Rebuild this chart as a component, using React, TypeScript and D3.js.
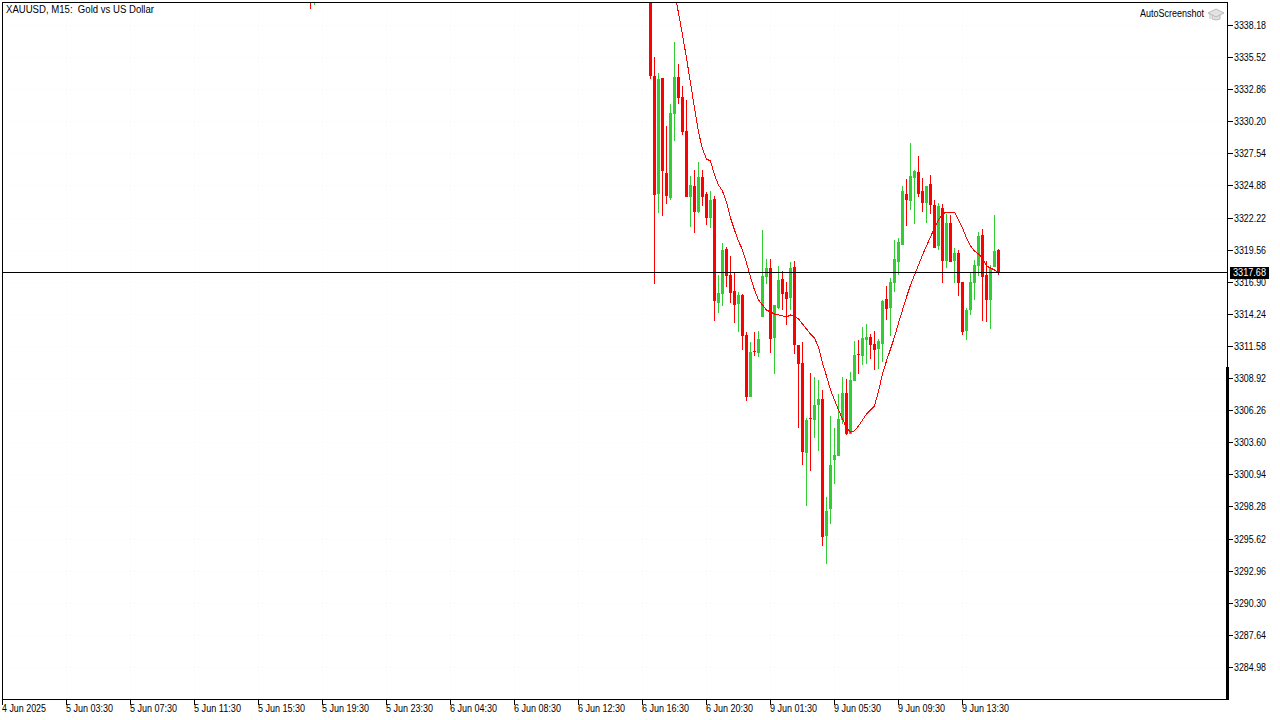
import React, { useRef, useEffect } from 'react';
import * as d3 from 'd3';

// visible run of M15 bars, the first one sits on bar slot 162 of the window
const firstBar = 162;
const opens = [3341.50,3333.95,3324.17,3333.79,3325.92,3323.84,3330.80,3333.87,3332.21,3329.40,3323.93,3324.84,3322.68,3325.58,3324.17,3322.19,3323.76,3315.14,3315.89,3319.62,3317.46,3316.14,3315.06,3315.81,3312.49,3307.35,3311.17,3311.00,3313.98,3317.30,3318.04,3312.24,3314.73,3317.13,3316.05,3315.56,3318.13,3311.66,3310.17,3302.71,3305.61,3305.45,3306.69,3307.19,3295.84,3298.07,3302.13,3302.47,3305.45,3307.69,3304.29,3308.68,3310.92,3310.75,3312.08,3312.33,3311.75,3311.33,3311.75,3315.47,3314.73,3316.80,3318.54,3319.95,3324.17,3323.60,3325.50,3326.00,3324.42,3323.43,3325.00,3323.26,3319.87,3323.02,3318.62,3321.77,3318.62,3319.29,3316.88,3312.82,3314.56,3316.80,3318.21,3320.78,3317.46,3315.39,3318.13,3319.54];
const highs = [3342.00,3335.53,3334.20,3333.79,3329.81,3331.63,3336.77,3334.95,3333.12,3331.96,3325.67,3326.16,3326.83,3326.16,3324.34,3324.42,3324.01,3317.46,3320.12,3319.78,3319.04,3317.71,3316.05,3315.89,3312.74,3311.91,3312.74,3312.82,3321.19,3318.79,3318.79,3314.98,3318.21,3317.79,3316.88,3318.54,3318.62,3311.66,3311.91,3305.61,3309.34,3309.01,3308.76,3307.93,3299.07,3305.78,3304.79,3307.60,3309.01,3308.85,3309.43,3312.00,3312.08,3313.15,3313.40,3312.57,3312.82,3312.16,3315.39,3316.55,3317.21,3320.36,3320.53,3324.84,3325.42,3328.40,3326.16,3327.32,3325.50,3324.84,3325.75,3323.68,3323.43,3323.35,3322.52,3322.43,3319.70,3319.54,3316.88,3314.73,3317.71,3318.71,3321.03,3321.27,3318.62,3318.29,3322.43,3319.62];
const lows = [3333.70,3316.72,3322.60,3322.35,3323.35,3323.68,3328.57,3331.63,3329.06,3323.93,3321.44,3320.94,3322.60,3323.18,3321.61,3321.36,3313.65,3314.32,3314.90,3316.47,3315.14,3313.49,3312.74,3311.25,3307.02,3307.35,3310.75,3310.67,3313.98,3316.72,3311.00,3309.26,3314.65,3314.56,3313.32,3314.56,3310.92,3304.79,3301.72,3298.32,3301.22,3303.96,3302.88,3295.01,3293.52,3296.83,3300.15,3302.47,3305.12,3304.21,3304.29,3308.68,3309.26,3310.01,3310.09,3310.50,3309.59,3309.67,3310.25,3313.73,3312.41,3316.05,3317.46,3319.95,3321.52,3322.85,3321.69,3323.93,3322.68,3321.77,3322.52,3319.70,3319.54,3316.80,3318.04,3318.54,3316.80,3315.72,3312.49,3312.08,3314.15,3315.39,3317.38,3313.65,3313.57,3312.99,3318.13,3317.46];
const closes = [3333.95,3324.09,3333.70,3326.08,3324.01,3330.89,3333.87,3332.13,3329.31,3323.93,3324.92,3322.68,3325.58,3323.93,3322.19,3323.68,3315.31,3315.97,3319.54,3317.38,3315.97,3314.98,3315.81,3312.41,3307.35,3311.08,3311.08,3312.16,3317.38,3318.04,3312.16,3314.98,3317.05,3315.89,3315.47,3318.04,3311.66,3310.09,3302.80,3305.45,3305.53,3306.69,3307.19,3295.75,3297.91,3301.72,3302.55,3305.53,3307.69,3304.29,3308.76,3310.83,3310.83,3312.24,3312.33,3311.66,3311.25,3312.00,3315.31,3314.65,3316.88,3318.79,3320.20,3324.42,3323.68,3325.67,3326.08,3324.17,3323.43,3324.84,3323.26,3319.70,3323.18,3318.62,3321.77,3318.54,3319.29,3316.80,3312.74,3314.56,3316.88,3318.29,3320.70,3317.30,3315.39,3318.04,3319.45,3317.68];

// two older bars whose lows just reach into the window from above
const farSlots = [77, 78];
const farOpens = [3341.20, 3340.10];
const farHighs = [3341.60, 3340.90];
const farLows = [3339.50, 3339.84];
const farCloses = [3340.30, 3340.70];

// moving average, starts on the 7th visible bar
const maStart = 6;
const maValues = [3340.91,3339.17,3337.35,3335.44,3333.37,3331.30,3329.31,3327.90,3327.08,3326.91,3325.75,3324.92,3324.42,3323.51,3322.19,3321.19,3320.28,3319.54,3318.46,3317.30,3316.22,3315.39,3314.98,3314.56,3314.40,3314.23,3314.15,3314.07,3313.98,3314.15,3314.07,3313.82,3313.40,3312.99,3312.57,3312.24,3311.50,3310.17,3309.09,3307.93,3307.11,3306.28,3305.53,3304.79,3304.45,3304.54,3304.95,3305.45,3305.95,3306.28,3306.61,3307.85,3309.26,3310.34,3311.33,3312.33,3313.49,3314.56,3315.64,3316.63,3317.46,3318.29,3319.12,3319.87,3320.61,3321.36,3322.02,3322.52,3322.68,3322.68,3322.68,3322.02,3321.36,3320.53,3319.87,3319.45,3319.20,3318.87,3318.21,3318.04,3317.88,3317.63];

const priceTicks = [3338.18,3335.52,3332.86,3330.20,3327.54,3324.88,3322.22,3319.56,3316.90,3314.24,3311.58,3308.92,3306.26,3303.60,3300.94,3298.28,3295.62,3292.96,3290.30,3287.64,3284.98];
const timeLabels = ['4 Jun 2025','5 Jun 03:30','5 Jun 07:30','5 Jun 11:30','5 Jun 15:30','5 Jun 19:30','5 Jun 23:30','6 Jun 04:30','6 Jun 08:30','6 Jun 12:30','6 Jun 16:30','6 Jun 20:30','9 Jun 01:30','9 Jun 05:30','9 Jun 09:30','9 Jun 13:30'];
const barsPerTimeLabel = 16;
const lastPrice = 3317.68;

const BULL = '#32cd32';
const BEAR = '#ff0000';
const FONT = '"Liberation Sans", sans-serif';

const App: React.FC = () => {
  const svgRef = useRef<SVGSVGElement | null>(null);

  useEffect(() => {
    if (!svgRef.current) return;
    const svg = d3.select(svgRef.current);
    svg.selectAll('*').remove();

    const left = 2, right = 1227, top = 2, bottom = 699;
    const x = d3.scaleLinear().domain([0, 1]).range([2, 6]);
    const y = d3.scaleLinear().domain([3338.18, 3284.98]).range([25, 667]);
    const py = (v: number) => Math.round(y(v));

    svg.append('defs').append('clipPath').attr('id', 'plot')
      .append('rect').attr('x', left).attr('y', top + 1).attr('width', right - left).attr('height', bottom - top - 1);

    // very faint dotted grid
    const grid = svg.append('g').attr('stroke', '#f6f6f6').attr('stroke-dasharray', '1,3').attr('shape-rendering', 'crispEdges');
    grid.selectAll('line.h').data(priceTicks).enter().append('line')
      .attr('x1', left).attr('x2', right).attr('y1', d => py(d) + 0.5).attr('y2', d => py(d) + 0.5);
    grid.selectAll('line.v').data(timeLabels).enter().append('line')
      .attr('y1', top).attr('y2', bottom)
      .attr('x1', (_, i) => x(i * barsPerTimeLabel) + 0.5).attr('x2', (_, i) => x(i * barsPerTimeLabel) + 0.5);

    const bars = [
      ...farSlots.map((slot, i) => ({ slot, o: farOpens[i], h: farHighs[i], l: farLows[i], c: farCloses[i] })),
      ...opens.map((o, i) => ({ slot: firstBar + i, o, h: highs[i], l: lows[i], c: closes[i] })),
    ];

    const plot = svg.append('g').attr('clip-path', 'url(#plot)').attr('shape-rendering', 'crispEdges');
    const candle = plot.selectAll('g.bar').data(bars).enter().append('g').attr('class', 'bar');
    candle.append('rect')
      .attr('x', d => x(d.slot))
      .attr('width', 1)
      .attr('y', d => py(d.h))
      .attr('height', d => Math.max(1, py(d.l) - py(d.h)))
      .attr('fill', d => (d.c >= d.o ? BULL : BEAR));
    candle.append('rect')
      .attr('x', d => x(d.slot) - 1)
      .attr('width', 3)
      .attr('y', d => py(Math.max(d.o, d.c)))
      .attr('height', d => Math.max(1, py(Math.min(d.o, d.c)) - py(Math.max(d.o, d.c))))
      .attr('fill', d => (d.c >= d.o ? BULL : BEAR));

    const maLine = d3.line<number>()
      .x((_, i) => x(firstBar + maStart + i) + 0.5)
      .y(d => y(d));
    plot.append('path').attr('d', maLine(maValues)).attr('fill', 'none').attr('stroke', BEAR).attr('stroke-width', 1);

    // last price line
    svg.append('line').attr('x1', left).attr('x2', right)
      .attr('y1', py(lastPrice) + 0.5).attr('y2', py(lastPrice) + 0.5)
      .attr('stroke', '#000').attr('shape-rendering', 'crispEdges');

    // frame
    const frame = svg.append('g').attr('stroke', '#000').attr('shape-rendering', 'crispEdges');
    frame.append('line').attr('x1', left + 0.5).attr('x2', left + 0.5).attr('y1', top).attr('y2', bottom + 6);
    frame.append('line').attr('x1', left).attr('x2', right + 1).attr('y1', top + 0.5).attr('y2', top + 0.5);
    frame.append('line').attr('x1', left).attr('x2', right + 1).attr('y1', bottom + 0.5).attr('y2', bottom + 0.5);
    frame.append('line').attr('x1', right + 0.5).attr('x2', right + 0.5).attr('y1', top).attr('y2', bottom + 1);
    // the axis line runs heavier below the 3308.92 label
    svg.append('rect').attr('x', right - 1).attr('width', 3)
      .attr('y', py(3308.92) - 11).attr('height', bottom + 1 - (py(3308.92) - 11))
      .attr('fill', '#000').attr('shape-rendering', 'crispEdges');

    // price axis
    const yAxis = svg.append('g');
    yAxis.selectAll('line').data(priceTicks).enter().append('line')
      .attr('x1', right).attr('x2', right + 6)
      .attr('y1', d => py(d) + 0.5).attr('y2', d => py(d) + 0.5)
      .attr('stroke', '#000').attr('shape-rendering', 'crispEdges');
    yAxis.selectAll('text').data(priceTicks).enter().append('text')
      .attr('x', 1234).attr('y', d => py(d) + 4)
      .attr('font-family', FONT).attr('font-size', 10).attr('fill', '#000')
      .attr('textLength', 32).attr('lengthAdjust', 'spacingAndGlyphs')
      .text(d => d.toFixed(2));

    // time axis
    const xAxis = svg.append('g');
    xAxis.selectAll('line').data(timeLabels).enter().append('line')
      .attr('x1', (_, i) => x(i * barsPerTimeLabel) + 0.5).attr('x2', (_, i) => x(i * barsPerTimeLabel) + 0.5)
      .attr('y1', bottom).attr('y2', bottom + 6)
      .attr('stroke', '#000').attr('shape-rendering', 'crispEdges');
    xAxis.selectAll('text').data(timeLabels).enter().append('text')
      .attr('x', (_, i) => x(i * barsPerTimeLabel)).attr('y', 712)
      .attr('font-family', FONT).attr('font-size', 10).attr('fill', '#000')
      .attr('textLength', (_, i) => (i === 0 ? 44 : 47)).attr('lengthAdjust', 'spacingAndGlyphs')
      .text(d => d);

    // last price tag
    svg.append('rect').attr('x', 1230).attr('y', py(lastPrice) - 5).attr('width', 39).attr('height', 12).attr('fill', '#000');
    svg.append('text').attr('x', 1233).attr('y', py(lastPrice) + 4)
      .attr('font-family', FONT).attr('font-size', 10).attr('fill', '#fff')
      .attr('textLength', 33).attr('lengthAdjust', 'spacingAndGlyphs')
      .text(lastPrice.toFixed(2));

    // title and watermark
    svg.append('text').attr('x', 6).attr('y', 13)
      .attr('font-family', FONT).attr('font-size', 10).attr('fill', '#000').attr('xml:space', 'preserve')
      .attr('textLength', 148).attr('lengthAdjust', 'spacingAndGlyphs')
      .text('XAUUSD, M15:  Gold vs US Dollar');
    svg.append('text').attr('x', 1140).attr('y', 17)
      .attr('font-family', FONT).attr('font-size', 10).attr('fill', '#000')
      .attr('textLength', 64).attr('lengthAdjust', 'spacingAndGlyphs')
      .text('AutoScreenshot');

    // graduation cap next to the watermark
    const cap = svg.append('g').attr('fill', '#e2e2e2').attr('stroke', '#aeaeae').attr('stroke-width', 0.8);
    cap.append('path').attr('d', 'M1212 15 L1212 19 Q1216 21 1220 19 L1220 15 Z');
    cap.append('path').attr('d', 'M1208 13 L1216 9 L1224 13 L1216 17 Z');
    cap.append('path').attr('d', 'M1210 14 L1210 19').attr('fill', 'none');
  }, []);

  return <svg ref={svgRef} width={1280} height={720} style={{ position: 'absolute', left: 0, top: 0, background: '#fff' }} />;
};

export default App;
